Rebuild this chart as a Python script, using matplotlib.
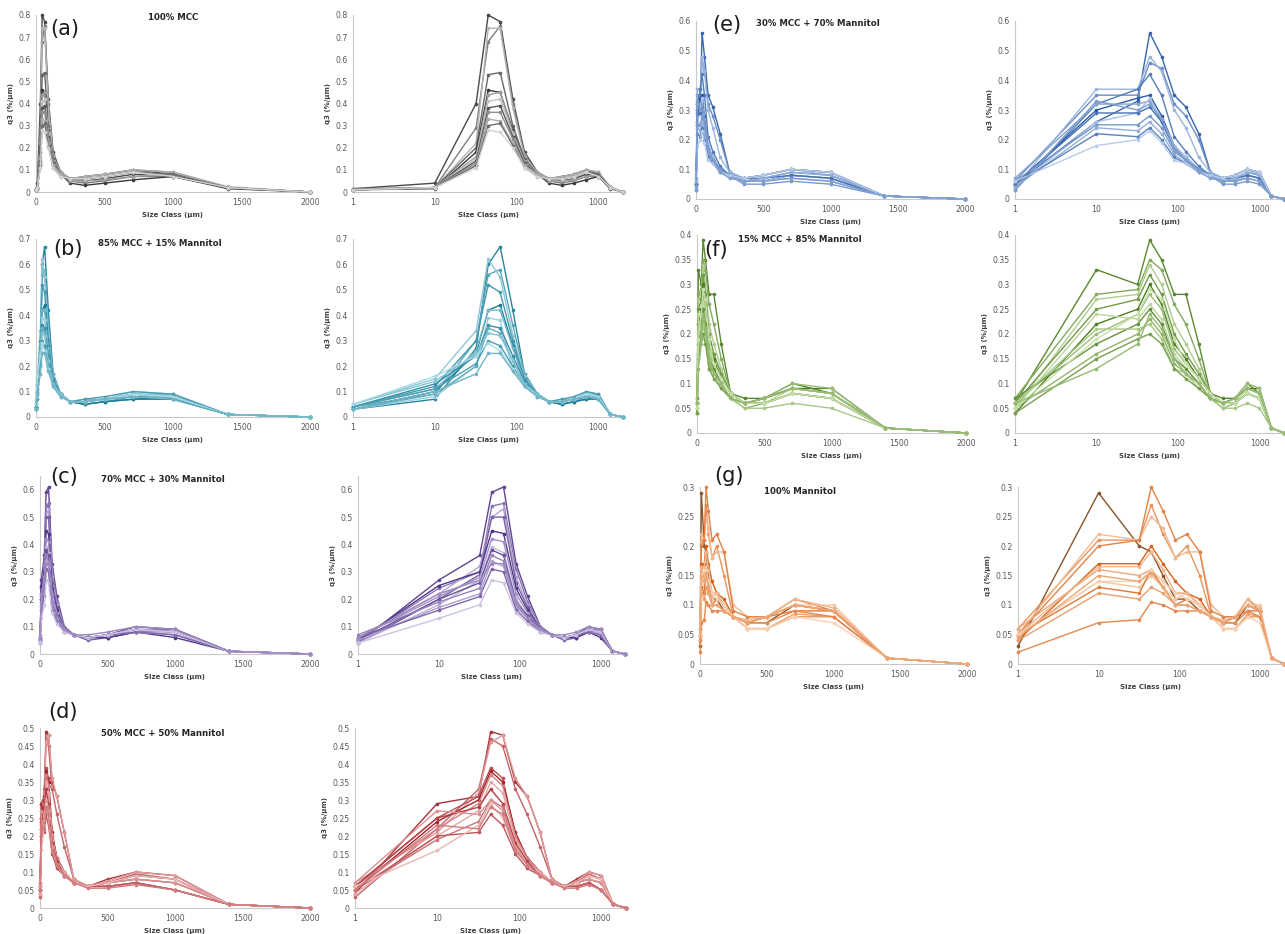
import numpy as np
import matplotlib
matplotlib.use("Agg")
import matplotlib.pyplot as plt
from matplotlib.colors import to_rgb
from matplotlib.ticker import FixedLocator, FuncFormatter, NullLocator

W, H = 1285, 934

# ---------------- data ----------------
size_class = [1, 10, 32, 45, 63, 90, 125, 180, 250, 355, 500, 710, 1000, 1400, 2000]

panel_labels = ["(a)", "(b)", "(c)", "(d)", "(e)", "(f)", "(g)"]
panel_titles = ["100% MCC", "85% MCC + 15% Mannitol", "70% MCC + 30% Mannitol",
                "50% MCC + 50% Mannitol", "30% MCC + 70% Mannitol",
                "15% MCC + 85% Mannitol", "100% Mannitol"]

q3_a = [
    [.015, .04, .40, .80, .77, .42, .18, .09, .06, .05, .06, .08, .07, .02, 0],
    [.015, .02, .29, .68, .75, .40, .17, .08, .05, .04, .05, .07, .07, .02, 0],
    [.010, .02, .22, .74, .74, .38, .16, .09, .06, .06, .07, .09, .08, .02, 0],
    [.010, .02, .20, .53, .54, .30, .15, .08, .06, .06, .07, .09, .08, .02, 0],
    [.010, .015, .18, .46, .45, .28, .14, .08, .04, .03, .04, .055, .07, .015, 0],
    [.010, .02, .16, .44, .45, .27, .14, .08, .05, .05, .055, .07, .08, .02, 0],
    [.010, .02, .15, .41, .42, .26, .13, .08, .06, .06, .07, .09, .09, .025, 0],
    [.010, .02, .14, .38, .39, .25, .13, .08, .06, .07, .08, .10, .08, .02, 0],
    [.010, .02, .13, .36, .36, .24, .12, .08, .06, .07, .08, .10, .09, .02, 0],
    [.010, .02, .12, .33, .32, .22, .12, .08, .06, .07, .08, .10, .09, .02, 0],
    [.010, .02, .12, .30, .31, .21, .11, .07, .06, .06, .07, .09, .08, .02, 0],
    [.010, .02, .11, .28, .27, .20, .11, .07, .06, .06, .07, .09, .07, .02, 0],
]
q3_b = [
    [.03, .07, .27, .60, .67, .42, .17, .09, .06, .05, .06, .07, .08, .01, 0],
    [.04, .09, .30, .56, .58, .36, .17, .09, .06, .05, .06, .08, .08, .01, 0],
    [.05, .15, .34, .62, .55, .32, .16, .09, .06, .06, .07, .09, .07, .01, 0],
    [.04, .12, .30, .52, .49, .30, .15, .09, .06, .06, .07, .08, .07, .01, 0],
    [.03, .10, .25, .42, .44, .28, .14, .09, .06, .05, .06, .07, .07, .01, 0],
    [.04, .11, .26, .42, .42, .27, .14, .09, .06, .06, .07, .09, .08, .01, 0],
    [.03, .08, .20, .39, .38, .18, .13, .09, .06, .06, .07, .10, .09, .01, 0],
    [.04, .13, .24, .36, .35, .24, .14, .09, .06, .06, .07, .09, .08, .01, 0],
    [.03, .09, .20, .35, .33, .22, .13, .09, .06, .07, .07, .09, .09, .01, 0],
    [.05, .14, .25, .33, .32, .22, .13, .09, .06, .06, .07, .09, .08, .01, 0],
    [.04, .11, .21, .30, .28, .20, .12, .08, .06, .07, .08, .10, .09, .01, 0],
    [.05, .16, .24, .29, .26, .19, .12, .08, .06, .06, .07, .09, .08, .01, 0],
    [.03, .10, .17, .25, .25, .18, .12, .08, .06, .06, .07, .08, .07, .01, 0],
]
q3_c = [
    [.04, .27, .36, .59, .61, .33, .21, .10, .07, .06, .06, .08, .09, .01, 0],
    [.05, .24, .30, .54, .55, .31, .19, .10, .07, .06, .07, .09, .09, .01, 0],
    [.06, .22, .32, .50, .53, .28, .18, .09, .07, .06, .07, .08, .08, .01, 0],
    [.04, .20, .29, .50, .50, .26, .17, .09, .07, .05, .06, .08, .07, .01, 0],
    [.05, .25, .30, .45, .44, .24, .16, .09, .07, .06, .06, .08, .06, .01, 0],
    [.06, .21, .28, .42, .41, .22, .15, .09, .07, .06, .07, .09, .08, .01, 0],
    [.04, .18, .27, .39, .37, .20, .14, .09, .07, .06, .07, .08, .07, .01, 0],
    [.05, .20, .26, .38, .36, .19, .14, .09, .07, .06, .07, .10, .09, .01, 0],
    [.07, .19, .24, .36, .34, .18, .13, .09, .07, .06, .07, .09, .08, .01, 0],
    [.05, .17, .22, .34, .32, .17, .13, .08, .07, .06, .07, .09, .08, .01, 0],
    [.06, .16, .21, .31, .30, .16, .12, .08, .07, .06, .07, .08, .07, .01, 0],
    [.04, .13, .18, .27, .26, .15, .11, .08, .07, .06, .07, .09, .08, .01, 0],
    [.06, .22, .27, .33, .33, .19, .13, .09, .07, .07, .08, .10, .09, .01, 0],
]
q3_d = [
    [.04, .29, .31, .49, .48, .35, .31, .21, .08, .06, .08, .10, .09, .01, 0],
    [.03, .22, .33, .47, .45, .33, .26, .17, .08, .06, .07, .095, .08, .01, 0],
    [.07, .21, .32, .46, .48, .36, .31, .21, .08, .06, .075, .10, .09, .01, 0],
    [.06, .25, .31, .39, .36, .20, .14, .10, .07, .06, .06, .07, .05, .01, 0],
    [.05, .24, .30, .38, .35, .21, .14, .10, .07, .06, .06, .07, .05, .01, 0],
    [.06, .22, .29, .37, .34, .20, .14, .10, .07, .06, .07, .08, .07, .01, 0],
    [.04, .20, .27, .35, .32, .19, .13, .10, .07, .06, .06, .07, .05, .01, 0],
    [.06, .25, .28, .33, .29, .18, .13, .09, .07, .06, .07, .09, .08, .01, 0],
    [.05, .19, .24, .30, .28, .17, .12, .09, .07, .06, .07, .08, .07, .01, 0],
    [.07, .27, .26, .30, .27, .17, .12, .09, .07, .06, .07, .08, .07, .01, 0],
    [.05, .20, .21, .26, .23, .15, .11, .09, .07, .06, .06, .07, .05, .01, 0],
    [.06, .16, .23, .29, .25, .16, .12, .09, .07, .06, .07, .09, .08, .01, 0],
    [.05, .23, .22, .28, .26, .16, .12, .09, .07, .055, .055, .065, .05, .01, 0],
]
q3_e = [
    [.05, .26, .33, .56, .48, .35, .31, .22, .09, .07, .08, .10, .09, .01, 0],
    [.06, .35, .35, .46, .44, .32, .28, .20, .09, .07, .08, .10, .09, .01, 0],
    [.04, .37, .37, .48, .43, .30, .24, .14, .09, .07, .08, .10, .08, .01, 0],
    [.03, .32, .37, .42, .35, .21, .16, .11, .08, .07, .07, .09, .08, .01, 0],
    [.05, .30, .34, .35, .28, .18, .14, .10, .08, .06, .06, .08, .07, .01, 0],
    [.07, .32, .32, .33, .26, .17, .14, .10, .08, .06, .06, .07, .06, .01, 0],
    [.04, .26, .29, .34, .27, .18, .14, .10, .08, .06, .06, .08, .07, .01, 0],
    [.05, .29, .29, .31, .26, .17, .13, .10, .08, .06, .07, .08, .07, .01, 0],
    [.06, .25, .25, .28, .24, .16, .13, .10, .08, .05, .05, .06, .05, .01, 0],
    [.04, .24, .23, .26, .22, .15, .12, .09, .08, .06, .07, .09, .08, .01, 0],
    [.05, .22, .21, .24, .20, .14, .12, .09, .08, .07, .08, .10, .09, .01, 0],
    [.06, .18, .20, .23, .19, .13, .12, .09, .08, .07, .08, .10, .09, .01, 0],
    [.03, .33, .30, .32, .27, .17, .13, .09, .07, .06, .06, .07, .06, .01, 0],
]
q3_f = [
    [.06, .33, .30, .39, .35, .28, .28, .18, .08, .07, .07, .10, .08, .01, 0],
    [.07, .28, .29, .35, .33, .26, .22, .15, .08, .06, .07, .09, .08, .01, 0],
    [.05, .27, .28, .34, .30, .22, .18, .13, .08, .06, .06, .08, .07, .01, 0],
    [.06, .25, .27, .32, .28, .20, .16, .12, .08, .06, .07, .09, .08, .01, 0],
    [.04, .22, .25, .30, .26, .18, .15, .11, .08, .06, .07, .09, .09, .01, 0],
    [.06, .20, .24, .28, .25, .17, .14, .11, .08, .06, .07, .10, .09, .01, 0],
    [.05, .24, .23, .26, .23, .16, .13, .10, .07, .06, .06, .09, .08, .01, 0],
    [.07, .18, .22, .25, .22, .15, .13, .10, .07, .06, .06, .08, .07, .01, 0],
    [.05, .16, .20, .23, .20, .14, .12, .10, .07, .05, .06, .08, .07, .01, 0],
    [.06, .21, .21, .22, .19, .13, .12, .09, .07, .05, .05, .06, .05, .01, 0],
    [.04, .15, .19, .20, .18, .13, .11, .09, .07, .06, .06, .08, .07, .01, 0],
    [.05, .19, .24, .29, .27, .19, .14, .11, .08, .06, .06, .08, .07, .01, 0],
    [.06, .13, .18, .24, .21, .15, .12, .10, .07, .06, .07, .09, .08, .01, 0],
]
q3_g = [
    [.03, .29, .20, .19, .15, .11, .11, .09, .08, .07, .07, .10, .09, .01, 0],
    [.06, .21, .21, .27, .22, .18, .20, .15, .08, .06, .06, .08, .08, .01, 0],
    [.05, .22, .21, .25, .23, .18, .19, .19, .10, .08, .08, .10, .09, .01, 0],
    [.05, .20, .21, .30, .26, .21, .22, .19, .09, .08, .08, .11, .09, .01, 0],
    [.04, .17, .17, .20, .17, .14, .12, .11, .08, .07, .08, .10, .09, .01, 0],
    [.06, .16, .15, .16, .14, .12, .12, .10, .08, .07, .08, .10, .09, .01, 0],
    [.05, .14, .13, .15, .13, .11, .12, .10, .08, .07, .08, .10, .10, .01, 0],
    [.05, .13, .12, .16, .13, .10, .11, .10, .08, .07, .08, .09, .09, .01, 0],
    [.04, .12, .11, .13, .12, .10, .10, .09, .08, .06, .06, .085, .08, .01, 0],
    [.05, .165, .165, .19, .16, .12, .12, .10, .08, .075, .08, .11, .095, .01, 0],
    [.02, .07, .075, .105, .10, .09, .09, .09, .08, .07, .07, .09, .08, .01, 0],
    [.05, .14, .14, .16, .14, .12, .11, .10, .08, .06, .06, .08, .07, .01, 0],
    [.045, .15, .14, .155, .13, .10, .10, .09, .08, .07, .08, .10, .09, .01, 0],
]
panel_data = [q3_a, q3_b, q3_c, q3_d, q3_e, q3_f, q3_g]

y_max = [0.8, 0.7, 0.65, 0.5, 0.6, 0.4, 0.3]
y_tick_top = [0.8, 0.7, 0.6, 0.5, 0.6, 0.4, 0.3]
y_step = [0.1, 0.1, 0.1, 0.05, 0.1, 0.05, 0.05]

# ---------------- styling ----------------
color_pairs = [("#3a3a3a", "#d2d2d2"), ("#1a7d97", "#a9dae6"), ("#54378a", "#cdc2e2"),
               ("#a5232a", "#ecb6b6"), ("#2a5ba5", "#b7cbea"), ("#4e7e20", "#c6e0a9"),
               ("#d8621a", "#f9d1b1")]
shade_order = [0.1, 0.45, 0.8, 0.3, 0.0, 0.65, 0.9, 0.2, 0.55, 0.75, 0.35, 1.0, 0.6]

# pixel boxes: (x_left, x_right, y_top(at ymax), y_bottom)
lin_boxes = [(36, 310, 15, 192), (36, 310, 239, 417), (40, 310, 476, 654),
             (40, 310, 728, 908), (696, 965, 21, 199), (697, 966, 235, 433),
             (700, 967, 487, 664)]
log_boxes = [(353, 623, 15, 192), (353, 623, 239, 417), (358, 625, 476, 654),
             (355, 626, 728, 908), (1015, 1284, 21, 199), (1015, 1284, 235, 433),
             (1018, 1284, 487, 664)]
title_pos = [(173, 17), (160, 243), (163, 480), (163, 734), (818, 24), (800, 240), (800, 491)]
label_pos = [(65, 29), (68, 249), (64, 477), (63, 712), (727, 25), (716, 250), (729, 476)]

TICK_C = "#595959"
SPINE_C = "#c8c8c8"

def mix(c1, c2, t):
    a, b = np.array(to_rgb(c1)), np.array(to_rgb(c2))
    return tuple(a + (b - a) * t)

fig = plt.figure(figsize=(W / 100, H / 100), dpi=100)
fig.patch.set_facecolor("white")

def make_ax(box):
    x0, x1, yt, yb = box
    return fig.add_axes([x0 / W, 1 - yb / H, (x1 - x0) / W, (yb - yt) / H])

fmt = FuncFormatter(lambda v, p: f"{v:g}")

def style_ax(ax, i):
    for s in ["top", "right"]:
        ax.spines[s].set_visible(False)
    for s in ["left", "bottom"]:
        ax.spines[s].set_color(SPINE_C)
        ax.spines[s].set_linewidth(0.8)
    ax.tick_params(length=0, labelsize=5.6, colors=TICK_C, pad=4)
    ticks = np.round(np.arange(0, y_tick_top[i] + 1e-9, y_step[i]), 3)
    ax.yaxis.set_major_locator(FixedLocator(ticks))
    ax.yaxis.set_major_formatter(fmt)
    ax.set_ylim(0, y_max[i])
    ax.set_ylabel("q3 (%/µm)", fontsize=5, fontweight="bold", color="#404040", labelpad=3)
    ax.set_xlabel("Size Class (µm)", fontsize=5, fontweight="bold", color="#404040", labelpad=4)
    ax.patch.set_alpha(0)

for i, curves in enumerate(panel_data):
    dark, light = color_pairs[i]
    ax_lin = make_ax(lin_boxes[i])
    ax_log = make_ax(log_boxes[i])
    for j, q in enumerate(curves):
        c = mix(dark, light, shade_order[j % len(shade_order)])
        if i == 6 and j == 0:
            c = "#8a5428"
        for ax in (ax_lin, ax_log):
            ax.plot(size_class, q, color=c, lw=1.0, marker="o", ms=1.6,
                    mec=c, mfc=c, clip_on=False, zorder=3)
    style_ax(ax_lin, i)
    style_ax(ax_log, i)
    ax_lin.set_xlim(0, 2000)
    ax_lin.xaxis.set_major_locator(FixedLocator([0, 500, 1000, 1500, 2000]))
    ax_lin.xaxis.set_major_formatter(fmt)
    ax_log.set_xscale("log")
    ax_log.set_xlim(1, 2000)
    ax_log.xaxis.set_major_locator(FixedLocator([1, 10, 100, 1000]))
    ax_log.xaxis.set_minor_locator(NullLocator())
    ax_log.xaxis.set_major_formatter(fmt)

    tx, ty = title_pos[i]
    fig.text(tx / W, 1 - ty / H, panel_titles[i], fontsize=6.2, fontweight="bold",
             color="#262626", ha="center", va="center")
    lx, ly = label_pos[i]
    fig.text(lx / W, 1 - ly / H, panel_labels[i], fontsize=15, color="#1a1a1a",
             ha="center", va="center")

fig.savefig("out.png", dpi=100, facecolor="white")
